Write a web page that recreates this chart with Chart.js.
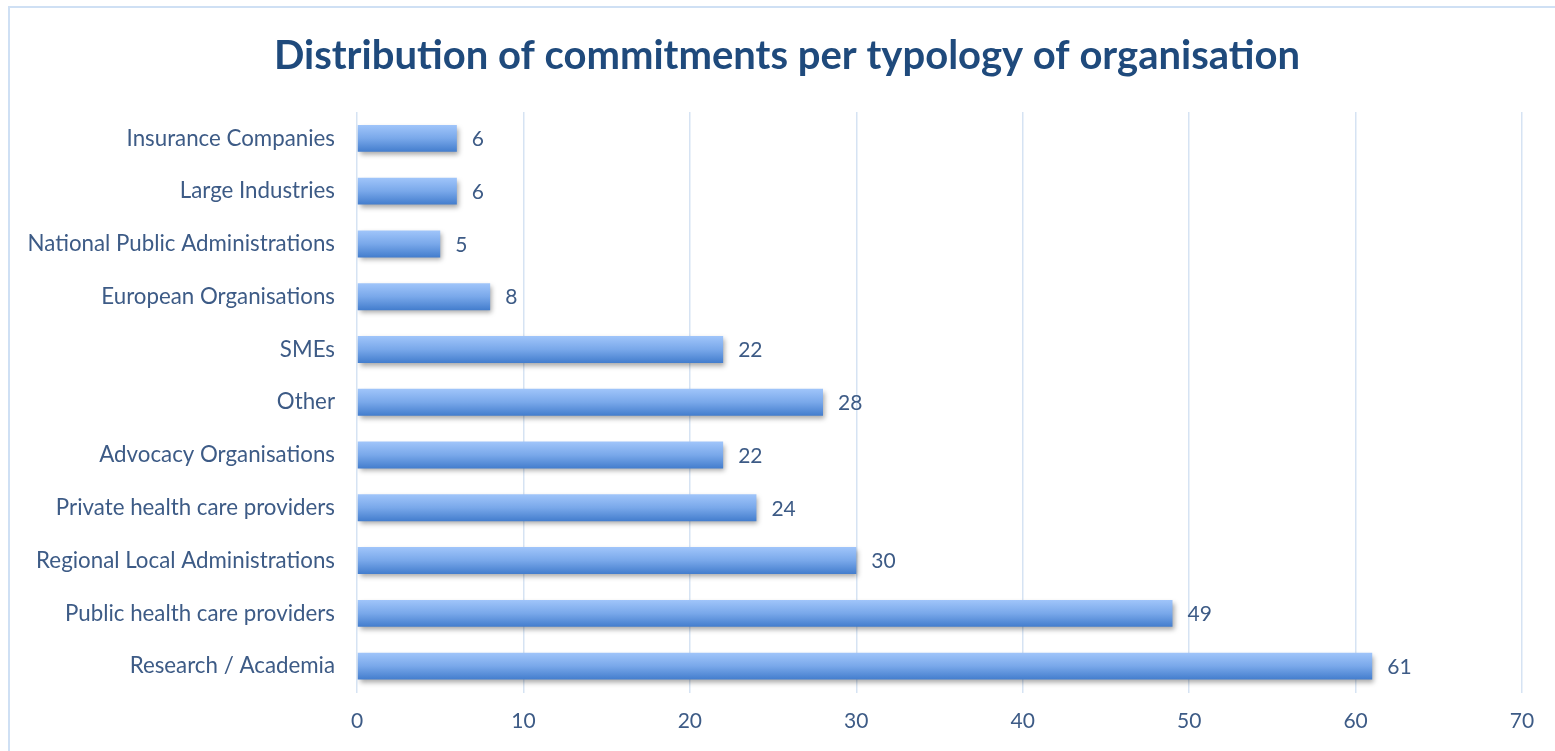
<!DOCTYPE html>
<html>
<head>
<meta charset="utf-8">
<script src="https://cdn.jsdelivr.net/npm/chart.js@4/dist/chart.umd.min.js"></script>
<style>
  html, body { margin: 0; padding: 0; background: #fff; }
  #wrap { width: 1555px; height: 751px; position: relative; }
</style>
</head>
<body>
<div id="wrap"><canvas id="c" width="1555" height="751"></canvas></div>
<script>
const titleText = 'Distribution of commitments per typology of organisation';
const categories = [
  'Insurance Companies',
  'Large Industries',
  'National Public Administrations',
  'European Organisations',
  'SMEs',
  'Other',
  'Advocacy Organisations',
  'Private health care providers',
  'Regional Local Administrations',
  'Public health care providers',
  'Research / Academia'
];
const commitments = [6, 6, 5, 8, 22, 28, 22, 24, 30, 49, 61];
const xTicks = [0, 10, 20, 30, 40, 50, 60, 70];

const FONT = 'Lato, "Open Sans", sans-serif';
const TEXT = '#3d5b86';
const BAR_PCT = 0.51;

const framePlugin = {
  id: 'frame',
  beforeDraw(chart) {
    const ctx = chart.ctx;
    ctx.save();
    ctx.fillStyle = '#fff';
    ctx.fillRect(0, 0, chart.width, chart.height);
    ctx.strokeStyle = '#cfe0f4';
    ctx.lineWidth = 2;
    ctx.strokeRect(9, 7, chart.width + 20, chart.height + 20);
    ctx.fillStyle = '#1f4a7c';
    ctx.font = 'bold 40px ' + FONT;
    ctx.textAlign = 'center';
    ctx.textBaseline = 'middle';
    ctx.fillText(titleText, 787, 56);
    ctx.restore();
  }
};

function barGradient(context) {
  const chart = context.chart;
  const ys = chart.scales && chart.scales.y;
  if (!chart.chartArea || !ys || context.dataIndex === undefined) return '#6d9fe3';
  const center = ys.getPixelForValue(context.dataIndex);
  const band = ys.height / categories.length;
  const h = band * BAR_PCT;
  const g = chart.ctx.createLinearGradient(0, center - h / 2, 0, center + h / 2);
  g.addColorStop(0, '#a0c5fa');
  g.addColorStop(0.5, '#79a8ea');
  g.addColorStop(1, '#437dcd');
  return g;
}

const barStyle = {
  id: 'barStyle',
  beforeDatasetsDraw(chart) {
    const ctx = chart.ctx;
    ctx.save();
    ctx.shadowColor = 'rgba(0,0,0,0.35)';
    ctx.shadowBlur = 5;
    ctx.shadowOffsetX = 2;
    ctx.shadowOffsetY = 3;
  },
  afterDatasetsDraw(chart) {
    const ctx = chart.ctx;
    ctx.restore();
    ctx.save();
    ctx.fillStyle = TEXT;
    ctx.font = '21px ' + FONT;
    ctx.textAlign = 'left';
    ctx.textBaseline = 'middle';
    const meta = chart.getDatasetMeta(0);
    meta.data.forEach((el, i) => {
      ctx.fillText(String(commitments[i]), el.x + 15, el.y + 1);
    });
    ctx.restore();
  }
};

new Chart(document.getElementById('c'), {
  type: 'bar',
  data: {
    labels: categories,
    datasets: [{
      data: commitments,
      backgroundColor: barGradient,
      borderWidth: 0,
      categoryPercentage: 1,
      barPercentage: BAR_PCT
    }]
  },
  options: {
    indexAxis: 'y',
    responsive: false,
    animation: false,
    devicePixelRatio: 1,
    layout: { padding: { left: 0, right: 33, top: 112, bottom: 0 } },
    plugins: {
      legend: { display: false },
      tooltip: { enabled: false },
      title: { display: false }
    },
    scales: {
      x: {
        min: 0, max: 70,
        afterBuildTicks(s) { s.ticks = xTicks.map(v => ({ value: v })); },
        afterFit(s) { s.height = 751 - 692.5; },
        grid: { color: '#d6e3f3', lineWidth: 1.5, drawTicks: false },
        border: { display: false },
        ticks: { color: TEXT, font: { family: FONT, size: 21 }, padding: 16 }
      },
      y: {
        afterFit(s) { s.width = 357; },
        grid: { display: false, drawTicks: false },
        border: { display: false },
        ticks: { color: TEXT, font: { family: FONT, size: 22.3 }, padding: 22 }
      }
    }
  },
  plugins: [framePlugin, barStyle]
});
</script>
</body>
</html>
